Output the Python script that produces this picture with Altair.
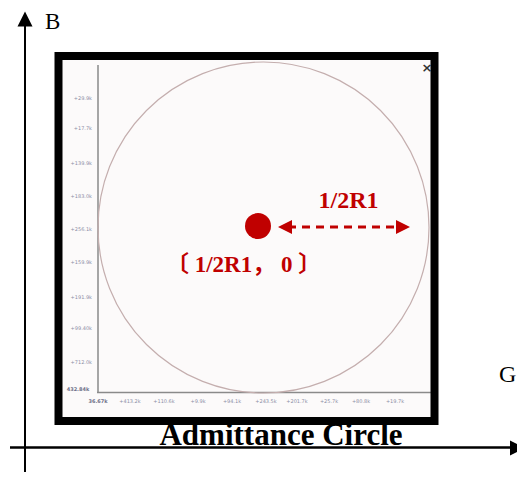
import altair as alt
import pandas as pd

# ---------------- data (diagram coordinates, y grows downward) ----------------
left_tick_labels = ["+29.9k", "+17.7k", "+139.9k", "+183.0k", "+256.1k",
                    "+159.9k", "+191.9k", "+99.40k", "+712.0k"]
left_tick_pos = [98, 128, 163, 196, 229, 262, 297, 328, 362]
bottom_tick_labels = ["+413.2k", "+110.6k", "+9.9k", "+94.1k", "+243.5k",
                      "+201.7k", "+25.7k", "+80.8k", "+19.7k"]
bottom_tick_pos = [130, 164, 198, 232, 266, 297, 329, 361, 395]
corner_labels = ["432.84k", "36.67k"]
circle_center = [263.5, 227.5]
circle_radius = 165.5
dot_center = [258, 226]

W, H = 509, 464
X0, Y0 = 8, 8
xs = alt.Scale(domain=[X0, X0 + W], nice=False, zero=False)
ys = alt.Scale(domain=[Y0, Y0 + H], nice=False, zero=False, reverse=True)

RED = "#c00000"
SERIF = "Liberation Serif"


def X(f="x"):
    return alt.X(f"{f}:Q", scale=xs, axis=None)


def Y(f="y"):
    return alt.Y(f"{f}:Q", scale=ys, axis=None)


def rect(x, x2, y, y2, **kw):
    d = pd.DataFrame({"x": [x], "x2": [x2], "y": [y], "y2": [y2]})
    return alt.Chart(d).mark_rect(**kw).encode(x=X(), x2="x2:Q", y=Y(), y2="y2:Q")


def rule(x, x2, y, y2, **kw):
    d = pd.DataFrame({"x": [x], "x2": [x2], "y": [y], "y2": [y2]})
    return alt.Chart(d).mark_rule(**kw).encode(x=X(), x2="x2:Q", y=Y(), y2="y2:Q")


def point(x, y, **kw):
    d = pd.DataFrame({"x": [x], "y": [y]})
    return alt.Chart(d).mark_point(**kw).encode(x=X(), y=Y())


def text(x, y, t, **kw):
    d = pd.DataFrame({"x": [x], "y": [y], "t": [t]})
    return alt.Chart(d).mark_text(**kw).encode(x=X(), y=Y(), text="t:N")


layers = []
# inner screenshot panel
layers.append(rect(62, 431, 60, 417, fill="#fcfafa"))
# inner axes
layers.append(rule(98, 98, 65, 393, color="#8a8a8a", strokeWidth=1.5))
layers.append(rule(97, 431, 392.5, 392.5, color="#8a8a8a", strokeWidth=1.5))
# big admittance circle
diam = 2 * circle_radius
layers.append(point(circle_center[0], circle_center[1], shape="circle", size=diam * diam,
                    filled=False, stroke="#c4aeae", strokeWidth=1.2, opacity=1))
# tick labels
lt = pd.DataFrame({"x": [92] * len(left_tick_pos), "y": left_tick_pos, "t": left_tick_labels})
layers.append(alt.Chart(lt).mark_text(align="right", baseline="middle", fontSize=5,
                                      color="#8c8fa6", font="DejaVu Sans").encode(
    x=X(), y=Y(), text="t:N"))
bt = pd.DataFrame({"x": bottom_tick_pos, "y": [401] * len(bottom_tick_pos), "t": bottom_tick_labels})
layers.append(alt.Chart(bt).mark_text(align="center", baseline="middle", fontSize=5,
                                      color="#8c8fa6", font="DejaVu Sans").encode(
    x=X(), y=Y(), text="t:N"))
layers.append(text(78, 389, corner_labels[0], align="center", baseline="middle", fontSize=5,
                   color="#6e7088", font="DejaVu Sans", fontWeight="bold"))
layers.append(text(98, 401, corner_labels[1], align="center", baseline="middle", fontSize=5,
                   color="#6e7088", font="DejaVu Sans", fontWeight="bold"))
# close mark
layers.append(text(427, 68, "×", align="center", baseline="middle", fontSize=13,
                   color="#333333", font="DejaVu Sans", fontWeight="bold"))
# thick black frame
layers.append(rect(58.5, 434.5, 56, 421, fill=None, fillOpacity=0, stroke="black", strokeWidth=8))
# red dot
layers.append(point(dot_center[0], dot_center[1], shape="circle", size=676, filled=True,
                    color=RED, opacity=1))
# dashed red double arrow
layers.append(rule(288, 400, 227, 227, color=RED, strokeWidth=3, strokeDash=[8, 6]))
layers.append(point(285, 227, shape="M-1,0L1,-1L1,1Z", size=196, filled=True, color=RED, opacity=1))
layers.append(point(403, 227, shape="M1,0L-1,-1L-1,1Z", size=196, filled=True, color=RED, opacity=1))
# red labels
layers.append(text(348.5, 208, "1/2R1", align="center", baseline="alphabetic", fontSize=24,
                   font=SERIF, fontWeight="bold", color=RED))
layers.append(text(243.5, 272, "〔 1/2R1， 0 〕", align="center", baseline="alphabetic",
                   fontSize=23, font=SERIF + ", Noto Sans CJK SC", fontWeight="bold", color=RED))
# outer B-G axes
layers.append(rule(25, 25, 26, 480, color="black", strokeWidth=2))
layers.append(point(25, 19, shape="M0,-1L1,1L-1,1Z", size=225, filled=True, color="black", opacity=1))
layers.append(rule(10, 511, 447.5, 447.5, color="black", strokeWidth=2.5))
layers.append(point(517.5, 448, shape="M1,0L-1,1L-1,-1Z", size=225, filled=True, color="black", opacity=1))
layers.append(text(45, 29, "B", align="left", baseline="alphabetic", fontSize=23,
                   font=SERIF, color="black"))
layers.append(text(499, 382, "G", align="left", baseline="alphabetic", fontSize=24,
                   font=SERIF, color="black"))
layers.append(text(281, 445, "Admittance Circle", align="center", baseline="alphabetic",
                   fontSize=31, font=SERIF, fontWeight="bold", color="black"))

chart = alt.layer(*layers).properties(
    width=W, height=H, padding=0, autosize=alt.AutoSizeParams(type="none"),
    background="white"
).configure_view(stroke=None)

chart.save("out.html", embed_options={"renderer": "svg", "actions": False})
